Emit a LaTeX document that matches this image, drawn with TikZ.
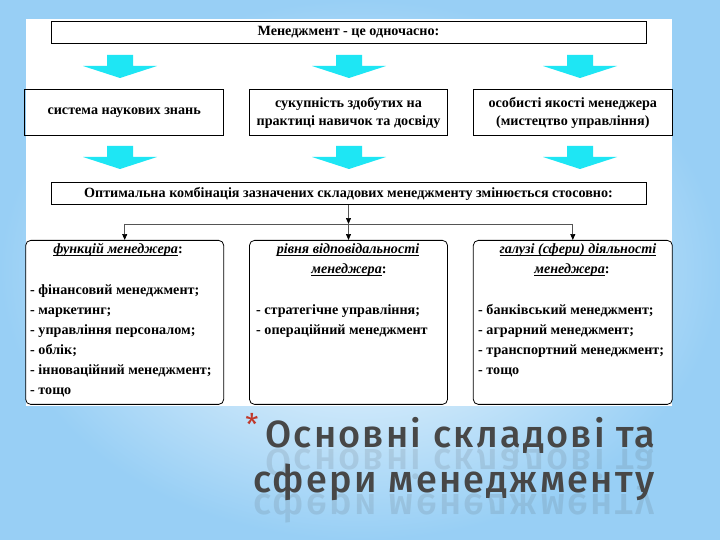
\documentclass[tikz,border=0pt]{standalone}
\usepackage{fontspec}
\setmainfont{Liberation Serif}
\newfontfamily\titlefont{Fira Sans}[BoldFont={Fira Sans Medium}, LetterSpace=6]
\usetikzlibrary{arrows.meta,positioning}
\definecolor{skyblue}{HTML}{98CFF5}
\definecolor{arrowcyan}{HTML}{1EE6F4}
\definecolor{linegray}{HTML}{555555}
\definecolor{titlegray}{HTML}{474747}
\definecolor{starred}{HTML}{C0392B}
\newcommand\lowline[1]{\setbox0\hbox{#1}\rlap{\rule[-2pt]{\wd0}{0.6pt}}\box0}

\begin{document}
\begin{tikzpicture}[x=1bp, y=-1bp,
    plain/.style={draw, line width=0.8pt, minimum width=595bp, minimum height=22bp,
                  font=\fontsize{14.2}{15}\selectfont\bfseries, inner sep=0pt},
    topic/.style={draw, line width=0.8pt, minimum width=#1, minimum height=46bp, align=center,
                  font=\fontsize{14.2}{17.5}\selectfont\bfseries, inner sep=0pt},
    field/.style={draw, line width=0.8pt, rounded corners=5pt, minimum width=#1, minimum height=164bp},
    head/.style={font=\fontsize{14.2}{15}\selectfont\bfseries, inner sep=0pt, anchor=base},
    item/.style={font=\fontsize{14.2}{15}\selectfont\bfseries, inner sep=0pt, anchor=base west},
    conn/.style={-{Triangle[length=6pt,width=5pt,color=black]}, linegray, line width=0.7pt},
    blockarr/.pic={\fill[arrowcyan] (-13,0) -- (13,0) -- (13,11) -- (37,11) -- (0,23)
                   -- (-37,11) -- (-13,11) -- cycle;},
    big/.style={font=\titlefont\bfseries\fontsize{38}{38}\selectfont, text=titlegray, inner sep=0pt, anchor=base west}
  ]
    \useasboundingbox (0,0) rectangle (720,540);
    \shade[inner color=white, outer color=skyblue] (0,0) rectangle (720,540);
    \fill[white] (26,19) rectangle (672,406);

    % upper part
    \node[plain] (top) at (348.5,32) {Менеджмент - це одночасно:};
    \node[topic=198bp, below=46bp of top] (skill) {сукупність здобутих на\\практиці навичок та досвіду};
    \node[topic=199bp, left=25bp of skill]  (sys) {система наукових знань};
    \node[topic=199bp, right=25bp of skill] (art) {особисті якості менеджера\\(мистецтво управління)};
    \node[plain, below=46bp of skill] (comb) {Оптимальна комбінація зазначених складових менеджменту змінюється стосовно:};

    \foreach \x in {120,349,580} {
      \pic at (\x,55) {blockarr};
      \pic at (\x,146) {blockarr};
    }

    % lower part
    \node[field=198bp, below=35bp of comb] (lvl) {};
    \node[field=198bp, left=25bp of lvl]  (fun) {};
    \node[field=199bp, right=25bp of lvl] (sph) {};

    \coordinate[below=19bp of comb.south] (split);
    \draw[conn] (comb.south) -- (split);
    \draw[linegray, line width=0.7pt] (split -| fun.north) -- (split -| sph.north);
    \draw[conn] (split -| fun.north) -- (fun.north);
    \draw[conn] (split) -- (lvl.north);
    \draw[conn] (split -| sph.north) -- (sph.north);

    \node[head] (funhead) at (118,254) {\lowline{\itshape функцій менеджера}:};
    \node[head] (lvlhead) at (348,254) {\lowline{\itshape рівня відповідальності}};
    \node[head] (lvlmgr)  at (349,274) {\lowline{\itshape менеджера}:};
    \node[head] (sphhead) at (578,254) {\lowline{\itshape галузі (сфери) діяльності}};
    \node[head] (sphmgr)  at (572,274) {\lowline{\itshape менеджера}:};

    \foreach \t [count=\i] in {{- фінансовий менеджмент;}, {- маркетинг;}, {- управління персоналом;},
                               {- облік;}, {- інноваційний менеджмент;}, {- тощо}}
      \node[item] (fun\i) at (30,{274+20*\i}) {\t};
    \foreach \t [count=\i] in {{- стратегічне управління;}, {- операційний менеджмент}}
      \node[item] (lvl\i) at (256,{294+20*\i}) {\t};
    \foreach \t [count=\i] in {{- банківський менеджмент;}, {- аграрний менеджмент;},
                               {- транспортний менеджмент;}, {- тощо}}
      \node[item] (sph\i) at (478,{294+20*\i}) {\t};

    % title
    \node[text=starred, font=\titlefont\fontsize{30}{30}\selectfont, inner sep=0pt] (star) at (252,424) {*};
    \node[big] (line1) at (265,447) {Основні складові та};
    \node[big] (line2) at (253,492) {сфери менеджменту};
    \node[big, yscale=-1, opacity=0.13] (mirror1) at (265,449) {Основні складові та};
    \node[big, yscale=-1, opacity=0.13] (mirror2) at (253,494) {сфери менеджменту};
  \end{tikzpicture}
\end{document}
